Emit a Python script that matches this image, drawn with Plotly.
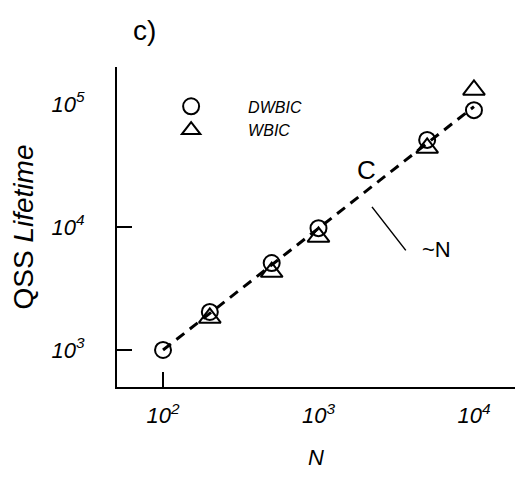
import plotly.graph_objects as go

N = [100, 200, 500, 1000, 5000, 10000]
dwbic = [1000, 2036, 5090, 9780, 51000, 89000]
wbic = [None, 1820, 4300, 8300, 43900, 130000]
fit_N = [100, 10000]
fit_T = [1000, 95000]

x_tickvals = [100, 1000, 10000]
x_ticktext = ["<i>10<sup>2</sup></i>", "<i>10<sup>3</sup></i>", "<i>10<sup>4</sup></i>"]
y_tickvals = [1000, 10000, 100000]
y_ticktext = ["<i>10<sup>3</sup></i>", "<i>10<sup>4</sup></i>", "<i>10<sup>5</sup></i>"]
x_marks = [100]
y_marks = [1000, 10000]

FONT = "Liberation Sans"
xr = [1.704, 4.264]
yr = [2.699, 5.30]

fig = go.Figure()
fig.add_trace(go.Scatter(x=fit_N, y=fit_T, mode="lines", showlegend=False,
                         line=dict(color="black", width=3, dash="10px,7px")))
fig.add_trace(go.Scatter(x=N, y=dwbic, mode="markers", name="DWBIC",
                         marker=dict(symbol="circle-open", size=16, color="black",
                                     line=dict(width=2, color="black"))))
fig.add_trace(go.Scatter(x=N, y=wbic, mode="markers", name="WBIC",
                         marker=dict(symbol="triangle-up-open", size=19, color="black",
                                     line=dict(width=2, color="black"))))
# dummy trace to carry the tick-mark overlay axes
fig.add_trace(go.Scatter(x=[None], y=[None], xaxis="x2", yaxis="y2", showlegend=False,
                         mode="markers"))

fig.update_layout(
    width=515, height=482,
    margin=dict(l=117, r=0, t=67, b=95),
    plot_bgcolor="white", paper_bgcolor="white",
    font=dict(family=FONT, color="black"),
    showlegend=True,
    legend=dict(x=0.043, y=0.93, xanchor="left", yanchor="top",
                font=dict(size=16, family=FONT, style="italic"),
                itemwidth=104, bgcolor="rgba(0,0,0,0)"),
    xaxis=dict(type="log", range=xr, showline=True, linecolor="black", linewidth=2,
               showgrid=False, zeroline=False, ticks="", tickmode="array",
               tickvals=x_tickvals, ticktext=x_ticktext,
               tickfont=dict(size=22, family=FONT), ticklabelstandoff=8,
               title=dict(text="<i>N</i>", font=dict(size=22, family=FONT), standoff=22)),
    yaxis=dict(type="log", range=yr, showline=True, linecolor="black", linewidth=2,
               showgrid=False, zeroline=False, ticks="", tickmode="array",
               tickvals=y_tickvals, ticktext=y_ticktext,
               tickfont=dict(size=22, family=FONT), ticklabelstandoff=26,
               title=dict(text="QSS <i>Lifetime</i>", font=dict(size=28, family=FONT),
                          standoff=10)),
    xaxis2=dict(type="log", range=xr, overlaying="x", anchor="y2", side="bottom",
                showline=False, showgrid=False, zeroline=False, ticks="inside",
                ticklen=15, tickwidth=2, tickcolor="black", tickmode="array",
                tickvals=x_marks, showticklabels=False),
    yaxis2=dict(type="log", range=yr, overlaying="y", anchor="x2", side="left",
                showline=False, showgrid=False, zeroline=False, ticks="inside",
                ticklen=15, tickwidth=2, tickcolor="black", tickmode="array",
                tickvals=y_marks, showticklabels=False),
    annotations=[
        dict(text="c)", xref="paper", yref="paper", x=0.035, y=1.113,
             xanchor="left", yanchor="middle", showarrow=False,
             font=dict(size=28, family=FONT)),
        dict(text="C", x=3.312, y=4.463, xref="x", yref="y", showarrow=False,
             font=dict(size=26, family=FONT)),
        dict(text="", x=3.344, y=4.163, xref="x", yref="y", showarrow=True,
             arrowhead=0, arrowwidth=1.5, arrowcolor="black", ax=35, ay=45,
             standoff=0),
        dict(text="~N", x=3.76, y=3.82, xref="x", yref="y", showarrow=False,
             font=dict(size=22, family=FONT)),
    ],
)

fig.write_html("out.html")
